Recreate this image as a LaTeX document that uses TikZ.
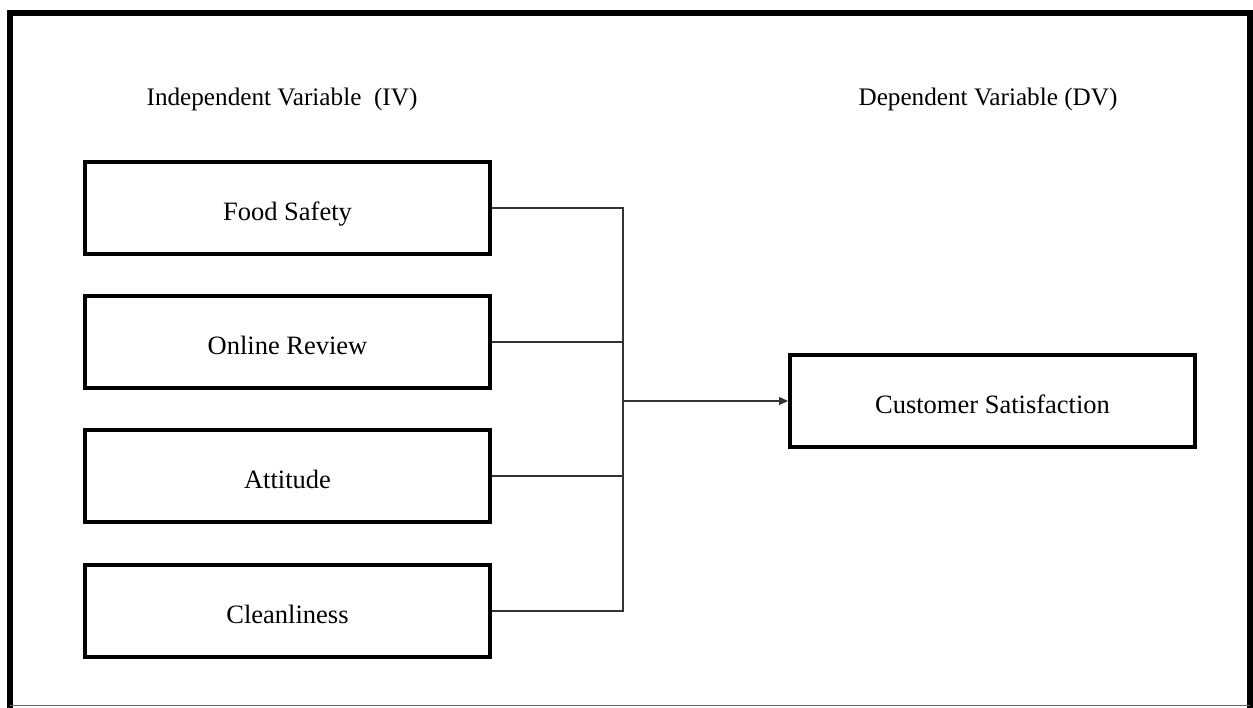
\documentclass[tikz,border=0pt]{standalone}
\usepackage{fontspec}
\setmainfont{Liberation Serif}
\usetikzlibrary{arrows.meta}
\begin{document}
\begin{tikzpicture}[x=1pt,y=-1pt,
  ivbox/.style={draw=black,line width=4pt,minimum width=405pt,minimum height=92pt,inner sep=0pt,text height=24pt,text depth=0pt,font=\fontsize{26.5}{30}\selectfont},
  dvbox/.style={ivbox},
  title/.style={font=\fontsize{25.2}{30}\selectfont,inner sep=0pt,text height=22pt,text depth=0pt},
  conn/.style={draw=black!80,line width=1.3pt},
  frame/.style={draw=black,line width=6pt}
]
\useasboundingbox (0,0) rectangle (1253,707);
\fill[white] (0,0) rectangle (1253,707);
% outer frame
\draw[frame,line cap=rect] (10,705) -- (10,13) -- (1250,13) -- (1250,705);
\draw[draw=black!60,line width=1pt] (10,705.5) -- (1250,705.5);
% titles
\node[title] (ivt) at (282,94) {Independent Variable\ \ (IV)};
\node[title] (dvt) at (988,94) {Dependent Variable (DV)};
% boxes
\node[ivbox] (fs) at (287.5,208) {Food Safety};
\node[ivbox] (or) at (287.5,342) {Online Review};
\node[ivbox] (at) at (287.5,476) {Attitude};
\node[ivbox] (cl) at (287.5,611) {Cleanliness};
\node[dvbox] (cs) at (992.5,401) {Customer Satisfaction};
% connectors
\coordinate (j) at (623,401);
\draw[conn] (fs.east) -- (fs.east -| j) -- (cl.east -| j) -- (cl.east);
\draw[conn] (or.east) -- (or.east -| j);
\draw[conn] (at.east) -- (at.east -| j);
\draw[conn,-{Triangle[length=9pt,width=8pt]}] (j) -- (cs.west);
\end{tikzpicture}
\end{document}
